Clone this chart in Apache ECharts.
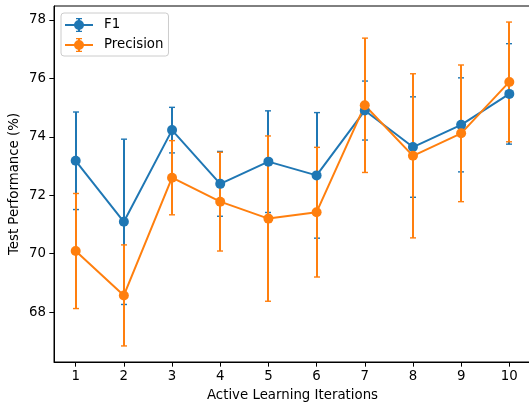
<!DOCTYPE html>
<html>
<head>
<meta charset="utf-8">
<script src="https://cdn.jsdelivr.net/npm/echarts@6/dist/echarts.min.js"></script>
<style>
html,body{margin:0;padding:0;background:#fff;}
#chart{width:529px;height:403px;}
</style>
</head>
<body>
<div id="chart"></div>
<script>
const iterations = [1, 2, 3, 4, 5, 6, 7, 8, 9, 10];
const f1Mean = [73.18, 71.09, 74.23, 72.39, 73.15, 72.68, 74.90, 73.65, 74.41, 75.47];
const f1Err = [1.67, 2.83, 0.78, 1.11, 1.74, 2.15, 1.01, 1.72, 1.61, 1.72];
const precMean = [70.09, 68.57, 72.60, 71.78, 71.20, 71.42, 75.08, 73.35, 74.12, 75.88];
const precErr = [1.97, 1.73, 1.27, 1.69, 2.83, 2.22, 2.30, 2.81, 2.34, 2.05];
const yTicks = [68, 70, 72, 74, 76, 78];

const BLUE = '#1f77b4', ORANGE = '#ff7f0e';
const FONT = 'DejaVu Sans';
const FS = 13.33;

const LEGEND_ICON = 'path://M0,6L28,6L28,8L0,8Z' +
  'M13,0.6L15,0.6L15,13.4L13,13.4Z' +
  'M11,0L17,0L17,1.3L11,1.3Z' +
  'M11,12.7L17,12.7L17,14L11,14Z' +
  'M9,7A5,5 0 1,1 19,7A5,5 0 1,1 9,7Z';

function errData(mean, err) {
  return iterations.map((x, i) => [x, mean[i] - err[i], mean[i] + err[i]]);
}
function errSeries(name, mean, err, color) {
  return {
    type: 'custom',
    name: name,
    data: errData(mean, err),
    encode: { x: 0, y: [1, 2] },
    silent: true,
    clip: false,
    z: 1,
    itemStyle: { color: color },
    renderItem: function (params, api) {
      const x = api.value(0);
      const lo = api.coord([x, api.value(1)]);
      const hi = api.coord([x, api.value(2)]);
      const cx = Math.round(lo[0]);
      const bw = 2, cw = 3, ch = 1.4;
      return {
        type: 'group',
        children: [
          { type: 'rect', shape: { x: cx - bw / 2, y: hi[1], width: bw, height: lo[1] - hi[1] }, style: { fill: color, stroke: null } },
          { type: 'rect', shape: { x: cx - cw, y: lo[1] - ch / 2, width: 2 * cw, height: ch }, style: { fill: color, stroke: null } },
          { type: 'rect', shape: { x: cx - cw, y: hi[1] - ch / 2, width: 2 * cw, height: ch }, style: { fill: color, stroke: null } }
        ]
      };
    }
  };
}
function lineSeries(name, mean, color) {
  return {
    type: 'line',
    name: name,
    data: iterations.map((x, i) => [x, mean[i]]),
    symbol: 'circle',
    symbolSize: 10,
    showSymbol: true,
    clip: false,
    z: 2,
    lineStyle: { color: color, width: 2 },
    itemStyle: { color: color },
    emphasis: { disabled: true }
  };
}

const chart = echarts.init(document.getElementById('chart'), null, { renderer: 'canvas' });
chart.setOption({
  animation: false,
  backgroundColor: '#fff',
  textStyle: { fontFamily: FONT },
  grid: {
    left: 54, right: -2, top: 6, bottom: 41,
    outerBoundsMode: 'none', containLabel: false,
    show: true, borderColor: '#000', borderWidth: 1, backgroundColor: 'transparent'
  },
  legend: {
    orient: 'vertical',
    left: 61, top: 13,
    data: [{ name: 'F1', icon: LEGEND_ICON }, { name: 'Precision', icon: LEGEND_ICON }],
    itemWidth: 28, itemHeight: 14, itemGap: 6,
    padding: [5, 5, 4, 4],
    backgroundColor: 'rgba(255,255,255,0.8)',
    borderColor: '#cccccc', borderWidth: 1, borderRadius: 3,
    textStyle: { fontFamily: FONT, fontSize: FS, lineHeight: 14, color: '#000', padding: [0, 0, 0, 6] }
  },
  xAxis: {
    type: 'value',
    min: 0.55, max: 10.45,
    name: 'Active Learning Iterations',
    nameLocation: 'middle', nameGap: 27, nameMoveOverlap: false,
    nameTextStyle: { fontFamily: FONT, fontSize: FS, color: '#000' },
    axisLine: { show: true, lineStyle: { color: '#000', width: 1 } },
    axisTick: { show: true, length: 4.67, inside: false, customValues: iterations, lineStyle: { color: '#000', width: 1 } },
    axisLabel: { customValues: iterations, margin: 8, fontFamily: FONT, fontSize: FS, color: '#000' },
    splitLine: { show: false }
  },
  yAxis: {
    type: 'value',
    min: 66.29, max: 78.48,
    name: 'Test Performance (%)',
    nameLocation: 'middle', nameGap: 33, nameMoveOverlap: false,
    nameTextStyle: { fontFamily: FONT, fontSize: FS, color: '#000' },
    axisLine: { show: true, lineStyle: { color: '#000', width: 1 } },
    axisTick: { show: true, length: 4.67, inside: false, customValues: yTicks, lineStyle: { color: '#000', width: 1 } },
    axisLabel: { customValues: yTicks, margin: 8, fontFamily: FONT, fontSize: FS, color: '#000' },
    splitLine: { show: false }
  },
  series: [
    errSeries('F1 error', f1Mean, f1Err, BLUE),
    errSeries('Precision error', precMean, precErr, ORANGE),
    lineSeries('F1', f1Mean, BLUE),
    lineSeries('Precision', precMean, ORANGE)
  ]
});
</script>
</body>
</html>
